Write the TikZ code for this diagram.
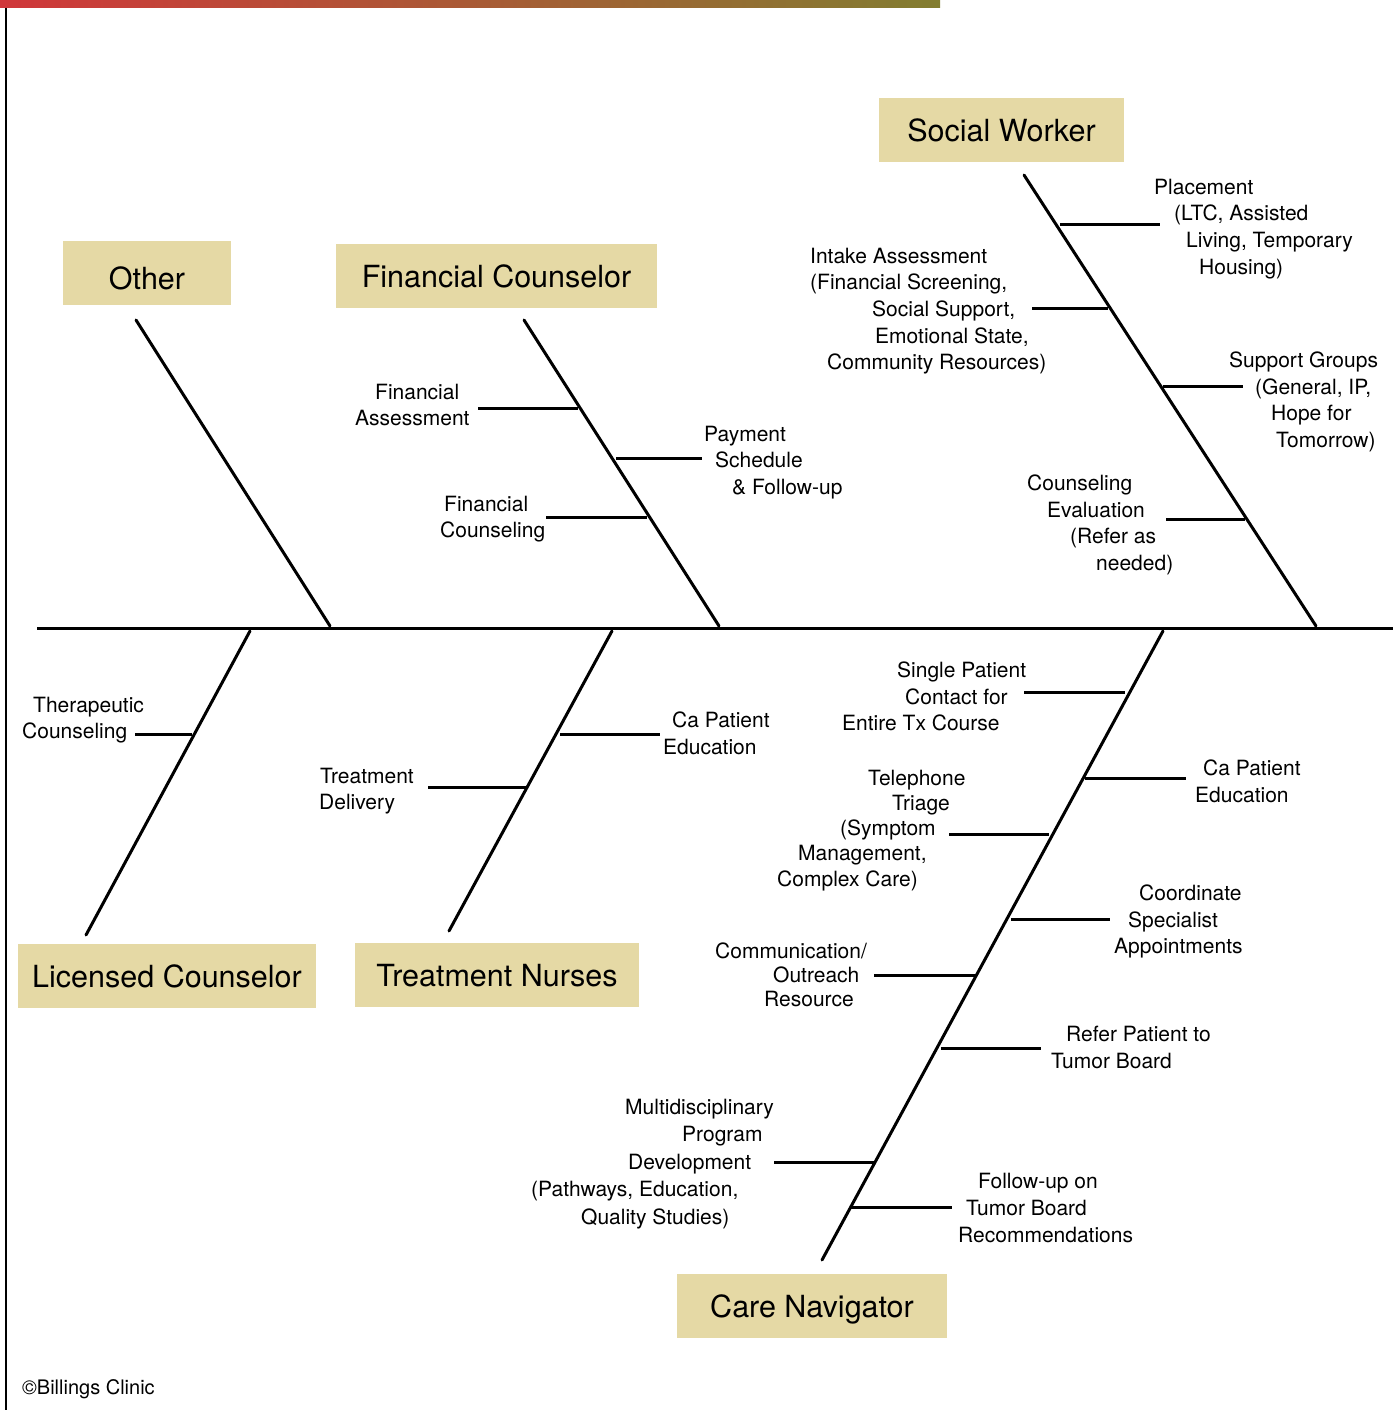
\documentclass[tikz,border=0pt]{standalone}
\usepackage{fontspec}
\setmainfont{TeX Gyre Heros}
\definecolor{boxc}{HTML}{E5D9A5}
\definecolor{barL}{HTML}{D0373A}
\definecolor{barR}{HTML}{827D30}
\begin{document}
\begin{tikzpicture}[x=1pt,y=-1pt,
  bone/.style={line width=3pt,line cap=round},
  rib/.style={line width=3pt},
  title/.style={fill=boxc,inner sep=0pt,minimum height=64pt,text height=22pt,text depth=0pt,font=\fontsize{30.5}{36}\selectfont},
  lbl/.style={inner sep=0pt,anchor=north west,align=left,font=\fontsize{21}{26.7}\selectfont,execute at begin node={\rule{0pt}{16pt}}}]
\useasboundingbox (0,0) rectangle (1393,1410);
% top bar and left border
\shade[left color=barL,right color=barR] (0,0) rectangle (940,8);
\draw[line width=2pt] (6,8) -- (6,1410);
% spine
\coordinate (sL) at (37,628);
\coordinate (sR) at (1393,628);
\draw[rib] (sL) -- (sR);
% title boxes
\node[title,minimum width=245pt] (sw) at (1001.5,130) {Social Worker};
\node[title,minimum width=168pt,text height=32pt] (ot) at (147,273) {Other};
\node[title,minimum width=321pt] (fc) at (496.5,276) {Financial Counselor};
\node[title,minimum width=298pt] (lc) at (167,976) {Licensed Counselor};
\node[title,minimum width=284pt] (tn) at (497,975) {Treatment Nurses};
\node[title,minimum width=270pt] (cn) at (812,1306) {Care Navigator};
% bones
\coordinate (otA) at (136,320);  \coordinate (otB) at (330,626);
\coordinate (fcA) at (524,320);  \coordinate (fcB) at (719,626);
\coordinate (swA) at (1024,175); \coordinate (swB) at (1316,626);
\coordinate (lcA) at (250,631);  \coordinate (lcB) at (86,935);
\coordinate (tnA) at (612,631);  \coordinate (tnB) at (449,931);
\coordinate (cnA) at (1163,631); \coordinate (cnB) at (822,1260);
\foreach \a/\b in {otA/otB,fcA/fcB,swA/swB,lcA/lcB,tnA/tnB,cnA/cnB}
  \draw[bone] (\a) -- (\b);
% ribs
\foreach \xa/\xb/\y in {1060/1160/224, 1032/1108/308, 1163/1243/386, 1166/1245/519,
  478/578/408, 616/702/458, 546/647/517,
  135/192/734, 560/660/734, 428/527/787,
  1024/1125/692, 1085/1186/778, 949/1049/834, 1011/1110/919, 874/975/975,
  941/1041/1048, 774/875/1162, 851/952/1207}
  \draw[rib] (\xa,\y) -- (\xb,\y);
% Social Worker labels
\node[lbl] (l1) at (1154,178.5) {Placement\\\hspace*{20pt}(LTC, Assisted\\\hspace*{32pt}Living, Temporary\\\hspace*{45pt}Housing)};
\node[lbl] (l2) at (810,247.5) {Intake Assessment\\(Financial Screening,\\\hspace*{62pt}Social Support,\\\hspace*{65pt}Emotional State,\\\hspace*{17pt}Community Resources)};
\node[lbl] (l3) at (1229,351.5) {Support Groups\\\hspace*{26pt}(General, IP,\\\hspace*{42pt}Hope for\\\hspace*{47pt}Tomorrow)};
\node[lbl] (l4) at (1027,474.5) {Counseling\\\hspace*{20pt}Evaluation\\\hspace*{43pt}(Refer as\\\hspace*{69pt}needed)};
% Financial Counselor labels
\node[lbl] (l5) at (355,383.5) {\hspace*{20pt}Financial\\Assessment};
\node[lbl] (l6) at (704,425.5) {Payment\\\hspace*{11pt}Schedule\\\hspace*{28pt}\& Follow-up};
\node[lbl] (l7) at (440,495.5) {\hspace*{4pt}Financial\\Counseling};
% Licensed Counselor / Treatment Nurses labels
\node[lbl] (l8) at (22,696.5) {\hspace*{11pt}Therapeutic\\Counseling};
\node[lbl] (l9) at (663,711.5) {\hspace*{9pt}Ca Patient\\Education};
\node[lbl] (l10) at (319,767.5) {\hspace*{1pt}Treatment\\Delivery};
% Care Navigator labels
\node[lbl] (l11) at (842,661.5) {\hspace*{55pt}Single Patient\\\hspace*{63pt}Contact for\\Entire Tx Course};
\node[lbl] (l12) at (1195,759.5) {\hspace*{8pt}Ca Patient\\Education};
\node[lbl,font=\fontsize{21}{25.3}\selectfont] (l13) at (777,769.5) {\hspace*{91pt}Telephone\\\hspace*{115pt}Triage\\\hspace*{63pt}(Symptom\\\hspace*{21pt}Management,\\Complex Care)};
\node[lbl] (l14) at (1114,884.5) {\hspace*{25pt}Coordinate\\\hspace*{14pt}Specialist\\Appointments};
\node[lbl,font=\fontsize{21}{24}\selectfont] (l15) at (715,942.5) {Communication/\\\hspace*{58pt}Outreach\\\hspace*{49pt}Resource};
\node[lbl,font=\fontsize{21}{27}\selectfont] (l16) at (1051,1025.5) {\hspace*{15pt}Refer Patient to\\Tumor Board};
\node[lbl,font=\fontsize{21}{27.5}\selectfont] (l17) at (531,1098.5) {\hspace*{94pt}Multidisciplinary\\\hspace*{151pt}Program\\\hspace*{97pt}Development\\(Pathways, Education,\\\hspace*{50pt}Quality Studies)};
\node[lbl,font=\fontsize{21}{27}\selectfont] (l18) at (958,1172.5) {\hspace*{20pt}Follow-up on\\\hspace*{8pt}Tumor Board\\Recommendations};
% copyright
\node[lbl,font=\fontsize{20}{24}\selectfont] (copy) at (22,1378.5) {©Billings Clinic};
\end{tikzpicture}
\end{document}
